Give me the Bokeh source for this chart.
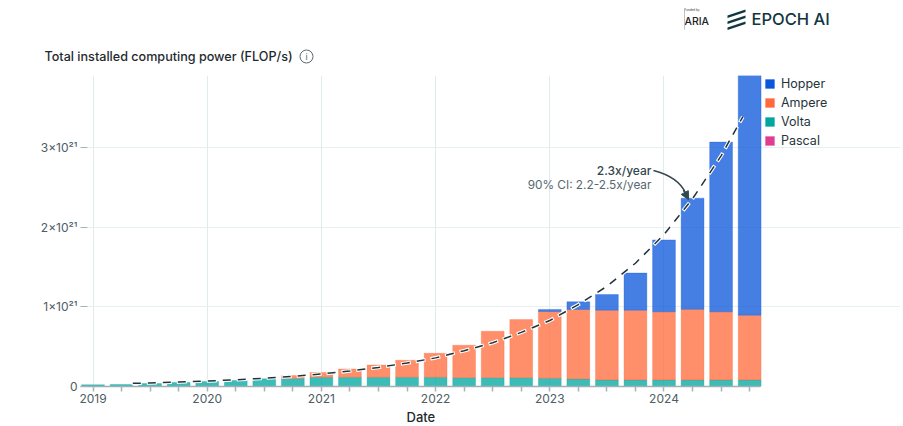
from bokeh.plotting import figure
from bokeh.layouts import column
from bokeh.core.properties import value
from bokeh.models import Range1d, FixedTicker, Label, Legend, LegendItem, Arrow, NormalHead, Title
from bokeh.embed import file_html
from bokeh.resources import INLINE

quarters = [2019 + i / 4 for i in range(24)]
years = [2019, 2020, 2021, 2022, 2023, 2024]
series_names = ["Hopper", "Ampere", "Volta", "Pascal"]
pascal = [0.0] * 24
volta = [.021, .025, .038, .05, .063, .075, .096, .10, .115, .115, .115, .115,
         .115, .11, .11, .11, .103, .093, .082, .082, .082, .082, .082, .082]
ampere = [0, 0, 0, 0, 0, 0, 0, .038, .061, .105, .155, .215,
          .303, .409, .585, .731, .84, .876, .878, .878, .858, .888, .858, .815]
hopper = [0] * 16 + [.026, .096, .196, .466, .903, 1.398, 2.133, 3.155]
trend_x = [2019.34, 2019.5, 2019.75, 2020, 2020.25, 2020.5, 2020.75, 2021, 2021.25, 2021.5, 2021.75,
           2022, 2022.25, 2022.5, 2022.75, 2023, 2023.25, 2023.5, 2023.75, 2024, 2024.25, 2024.5, 2024.69]
trend_y = [.039, .045, .056, .069, .085, .104, .128, .158, .195, .24, .295,
           .36, .45, .55, .68, .83, 1.03, 1.26, 1.55, 1.91, 2.36, 2.90, 3.39]

COL = {"Hopper": "#0B57DB", "Ampere": "#FF6A3D", "Volta": "#00A5A0", "Pascal": "#E03D90"}
INK = "#4D5D63"
F = "Inter"
HEAD_H = 66
W = 900
X0, X1 = 2018.8905, 2024.845   # the part of the frame holding the chart

# ---------- header strip: title and logos ----------
h = figure(width=W, height=HEAD_H, output_backend="svg", toolbar_location=None,
           x_range=Range1d(0, W), y_range=Range1d(HEAD_H, 0), min_border=0, frame_align=False)
h.axis.visible = False
h.grid.visible = False
h.outline_line_color = None

def htext(x, y, text, size, color, font=F, align="left"):
    h.text(x=[x], y=[y], text=[text], text_font=value(font), text_font_size=value(size), text_color=color,
           text_align=align, text_baseline="middle")

htext(44, 55.5, "Total installed computing power (FLOP/s)", "12.6px", "#1F2A2E", font="Inter Medium")
h.circle(x=[306], y=[56], radius=6.5, fill_alpha=0, line_color="#5A6A70", line_width=1)
htext(306, 56, "i", "9px", "#5A6A70", align="center")
htext(751, 18, "EPOCH AI", "16.5px", "#12363F", font="Inter Medium")
htext(684, 21, "ARIA", "10.5px", "#222222", font="Inter Medium")
htext(684, 9.5, "Funded by", "3px", "#333333")
h.segment(x0=[684], y0=[8], x1=[684], y1=[29], line_color="#999999", line_width=0.6)
for dy in (0, 6, 12):
    h.patch(x=[727, 745, 745, 727], y=[15 + dy, 9 + dy, 11.4 + dy, 17.4 + dy], fill_color="#12363F", line_color=None)

# ---------- chart ----------
p = figure(width=W, height=426 - HEAD_H, output_backend="svg", toolbar_location=None, frame_align=False,
           x_range=Range1d(X0, 2026.071), y_range=Range1d(0, 3.91),
           min_border_left=80, min_border_right=0, min_border_top=75 - HEAD_H, min_border_bottom=39)
p.outline_line_color = None

bottom = [0.0] * 24
for name, vals in (("Pascal", pascal), ("Volta", volta), ("Ampere", ampere), ("Hopper", hopper)):
    top = [b + v for b, v in zip(bottom, vals)]
    keep = [i for i, v in enumerate(vals) if v > 0]
    p.vbar(x=[quarters[i] for i in keep], bottom=[bottom[i] for i in keep], top=[top[i] for i in keep], width=0.2,
           fill_color=COL[name], line_color=COL[name], fill_alpha=0.76, line_alpha=0.3, line_width=1)
    bottom = top

p.line(trend_x, trend_y, line_color="white", line_width=3.6, line_dash="10 5", line_dash_offset=0)
p.line(trend_x, trend_y, line_color="#22343A", line_width=1.5, line_dash="8 7", line_dash_offset=-1)

items = []
for name in series_names:
    # legend key only: sits outside the x range
    r = p.vbar(x=[2030], top=[1], width=0.2, fill_color=COL[name], line_color=COL[name], line_alpha=0.45, line_width=1)
    items.append(LegendItem(label=name, renderers=[r]))
leg = Legend(items=items, location=(684, 238), background_fill_alpha=0, border_line_color=None,
             glyph_width=11, glyph_height=11, label_standoff=6, spacing=4, padding=0, margin=0,
             label_text_font=F, label_text_font_size="12.5px", label_text_color="#26343A", label_height=13)
p.add_layout(leg, "center")

# axes
xa, ya = p.xaxis[0], p.yaxis[0]
xa.ticker = FixedTicker(ticks=quarters)
xa.bounds = (X0, X1)
xa.major_label_overrides = {q: (str(int(q)) if q == int(q) else "") for q in quarters}
xa.axis_line_color = "#9FB0B4"; xa.axis_line_width = 1.5
xa.major_tick_line_color = "#A6B4B8"; xa.major_tick_line_width = 1.5
xa.major_tick_out = 5; xa.major_tick_in = 0; xa.minor_tick_line_color = None
xa.major_label_text_font = F; xa.major_label_text_font_size = "12px"; xa.major_label_text_color = INK
xa.major_label_standoff = 2
p.add_layout(Title(text="Date", align="left", offset=326, standoff=3, text_font="Inter Medium", text_font_size="13px",
                   text_font_style="normal", text_color="#1F2A2E"), "below")

ya.ticker = FixedTicker(ticks=[0, 1, 2, 3])
ya.major_label_overrides = {0: "0", 1: "1×10²¹", 2: "2×10²¹", 3: "3×10²¹"}
ya.axis_line_color = None
ya.major_tick_line_color = "#A6B4B8"; ya.major_tick_in = 7; ya.major_tick_out = 0; ya.minor_tick_line_color = None
ya.major_label_text_font = F; ya.major_label_text_font_size = "12px"; ya.major_label_text_color = INK
ya.major_label_standoff = 3

p.xgrid.ticker = FixedTicker(ticks=years)
p.xgrid.grid_line_color = "#E0ECEC"
p.ygrid.ticker = FixedTicker(ticks=[1, 2, 3])
p.ygrid.grid_line_color = "#E6F0F0"
p.ygrid.bounds = (X0, X1)

# annotation
p.add_layout(Label(x=2023.89, y=2.715, text="2.3x/year", text_align="right", text_baseline="middle",
                   text_font="Inter Medium", text_font_size="12px", text_color="#33474F"))
p.add_layout(Label(x=2023.89, y=2.535, text="90% CI: 2.2-2.5x/year", text_align="right", text_baseline="middle",
                   text_font=F, text_font_size="11.8px", text_color="#566870"))
p.bezier(x0=[2023.908], y0=[2.716], x1=[2024.19], y1=[2.43], cx0=[2024.075], cy0=[2.654], cx1=[2024.15], cy1=[2.56],
         line_color="#33474F", line_width=1.5)
p.add_layout(Arrow(x_start=2024.17, y_start=2.47, x_end=2024.215, y_end=2.35, line_color="#33474F", line_width=1.5,
                   end=NormalHead(size=8, fill_color="#33474F", line_color="#33474F")))

layout = column(h, p, spacing=0, width=W, height=426, sizing_mode="fixed")
open("out.html", "w").write(file_html(layout, INLINE))
